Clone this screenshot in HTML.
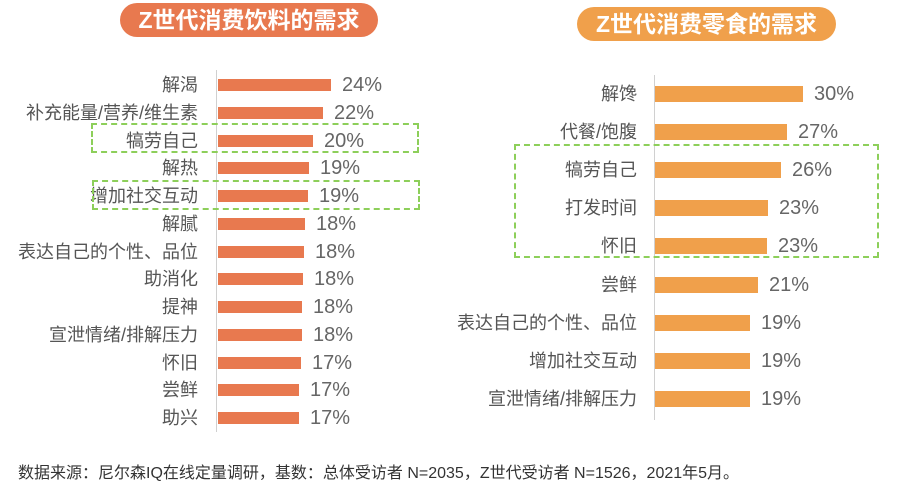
<!DOCTYPE html>
<html><head><meta charset="utf-8"><style>
body{margin:0;width:924px;height:500px;background:#fff;position:relative;overflow:hidden;font-family:"Liberation Sans","Noto Sans CJK SC",sans-serif;color:#555}
.pill{position:absolute;color:#fff;font-size:23px;text-align:center;border-radius:18px;line-height:34px;font-weight:bold}
.l{position:absolute;text-align:right;font-size:18px;line-height:22px;color:#555;white-space:nowrap}
.b{position:absolute}
.p{position:absolute;font-size:20px;line-height:22px;color:#666;white-space:nowrap}
.ax{position:absolute;width:1px;background:#d0d0d0}
.box{position:absolute;border:2px dashed #8dcf5a;box-sizing:border-box}
</style></head><body>
<div class="pill" style="left:120px;top:3px;width:258px;height:34px;background:#e8794f">Z世代消费饮料的需求</div>
<div class="pill" style="left:577px;top:7px;width:259px;height:34px;background:#f0a04b">Z世代消费零食的需求</div>
<div class="ax" style="left:216px;top:70px;height:362px"></div>
<div class="ax" style="left:654px;top:75px;height:345px"></div>
<div id="L"></div><div id="R"></div>
<div class="box" style="left:91px;top:123px;width:328px;height:30px"></div>
<div class="box" style="left:92px;top:180px;width:328px;height:30px"></div>
<div class="box" style="left:514px;top:144px;width:365px;height:114px"></div>
<div style="position:absolute;left:18px;top:459px;font-size:16px;color:#333;white-space:nowrap">数据来源：尼尔森IQ在线定量调研，基数：总体受访者 N=2035，Z世代受访者 N=1526，2021年5月。</div>
<script>
var L=[["解渴",331,"24%"],["补充能量/营养/维生素",323,"22%"],["犒劳自己",313,"20%"],["解热",309,"19%"],["增加社交互动",308,"19%"],["解腻",305,"18%"],["表达自己的个性、品位",304,"18%"],["助消化",303,"18%"],["提神",302,"18%"],["宣泄情绪/排解压力",302,"18%"],["怀旧",301,"17%"],["尝鲜",299,"17%"],["助兴",299,"17%"]];
var h="";L.forEach(function(r,i){var y=85+i*27.75;
h+='<div class="l" style="right:'+(924-198)+'px;top:'+(y-11)+'px">'+r[0]+'</div>';
h+='<div class="b" style="left:218px;top:'+(y-6)+'px;width:'+(r[1]-218)+'px;height:12px;background:#e8794f"></div>';
h+='<div class="p" style="left:'+(r[1]+11)+'px;top:'+(y-11)+'px">'+r[2]+'</div>';});
document.getElementById("L").innerHTML=h;
var R=[["解馋",803,"30%"],["代餐/饱腹",787,"27%"],["犒劳自己",781,"26%"],["打发时间",768,"23%"],["怀旧",767,"23%"],["尝鲜",758,"21%"],["表达自己的个性、品位",750,"19%"],["增加社交互动",750,"19%"],["宣泄情绪/排解压力",750,"19%"]];
h="";R.forEach(function(r,i){var y=94+i*38.1;
h+='<div class="l" style="right:'+(924-637)+'px;top:'+(y-11)+'px">'+r[0]+'</div>';
h+='<div class="b" style="left:655px;top:'+(y-8)+'px;width:'+(r[1]-655)+'px;height:16px;background:#f0a04b"></div>';
h+='<div class="p" style="left:'+(r[1]+11)+'px;top:'+(y-11)+'px">'+r[2]+'</div>';});
document.getElementById("R").innerHTML=h;
</script>
</body></html>
